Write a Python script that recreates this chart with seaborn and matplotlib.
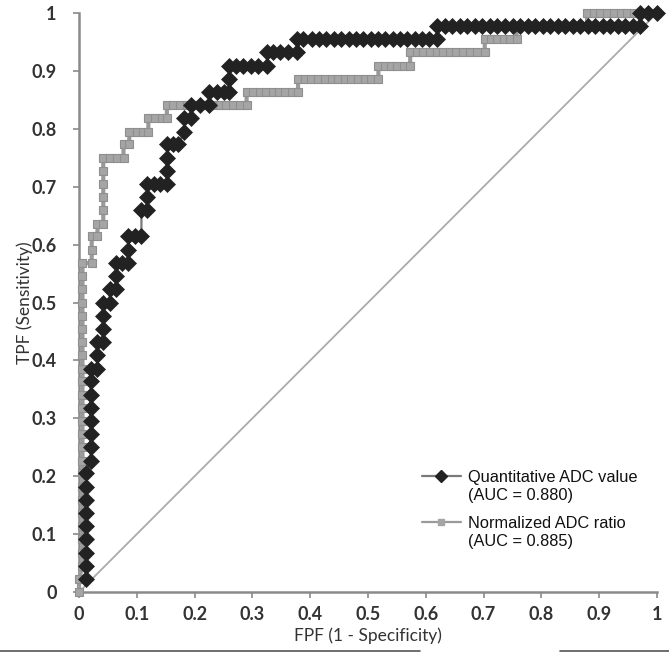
import numpy as np
import pandas as pd
import seaborn as sns
import matplotlib
matplotlib.use("Agg")
import matplotlib.pyplot as plt
from matplotlib.lines import Line2D
from matplotlib.legend_handler import HandlerLine2D

# ---- data ----
quant_fpf = [0.012, 0.012, 0.012, 0.012, 0.012, 0.012, 0.012, 0.012, 0.012,
             0.020, 0.020, 0.020, 0.020, 0.020, 0.020, 0.020, 0.020,
             0.032, 0.032, 0.032, 0.042, 0.042, 0.042, 0.042, 0.053, 0.053,
             0.064, 0.064, 0.064, 0.074, 0.085, 0.085, 0.085, 0.097, 0.108,
             0.108, 0.118, 0.118, 0.118, 0.129, 0.140, 0.152, 0.152, 0.152,
             0.152, 0.162, 0.172, 0.182, 0.182, 0.193, 0.193, 0.209, 0.225,
             0.225, 0.238, 0.250, 0.260, 0.260, 0.260, 0.272, 0.284, 0.297,
             0.310, 0.325, 0.325, 0.336, 0.348, 0.362, 0.377, 0.377,
             0.388, 0.403, 0.416, 0.428, 0.441, 0.454, 0.467, 0.479, 0.492,
             0.505, 0.517, 0.530, 0.543, 0.555, 0.568, 0.581, 0.593, 0.606, 0.620,
             0.620, 0.633, 0.646, 0.659, 0.672, 0.685, 0.698, 0.711, 0.724,
             0.737, 0.750, 0.763, 0.776, 0.789, 0.802, 0.815, 0.828, 0.841,
             0.854, 0.867, 0.880, 0.893, 0.906, 0.919, 0.932, 0.945, 0.958, 0.970,
             0.970, 0.985, 1.000]
quant_tpf = [0.023, 0.045, 0.068, 0.091, 0.114, 0.136, 0.159, 0.182, 0.205,
             0.227, 0.250, 0.273, 0.295, 0.318, 0.341, 0.364, 0.386,
             0.386, 0.409, 0.432, 0.432, 0.455, 0.477, 0.500, 0.500, 0.523,
             0.523, 0.545, 0.568, 0.568, 0.568, 0.591, 0.614, 0.614, 0.614,
             0.659, 0.659, 0.682, 0.705, 0.705, 0.705, 0.705, 0.727, 0.750,
             0.773, 0.773, 0.773, 0.795, 0.818, 0.818, 0.841, 0.841, 0.841,
             0.864, 0.864, 0.864, 0.864, 0.886, 0.909, 0.909, 0.909, 0.909,
             0.909, 0.909, 0.932, 0.932, 0.932, 0.932, 0.932, 0.955,
             0.955, 0.955, 0.955, 0.955, 0.955, 0.955, 0.955, 0.955, 0.955,
             0.955, 0.955, 0.955, 0.955, 0.955, 0.955, 0.955, 0.955, 0.955, 0.955,
             0.977, 0.977, 0.977, 0.977, 0.977, 0.977, 0.977, 0.977, 0.977,
             0.977, 0.977, 0.977, 0.977, 0.977, 0.977, 0.977, 0.977, 0.977,
             0.977, 0.977, 0.977, 0.977, 0.977, 0.977, 0.977, 0.977, 0.977, 0.977,
             1.000, 1.000, 1.000]

norm_fpf = [0.000, 0.000,
            0.006, 0.006, 0.006, 0.006, 0.006, 0.006, 0.006, 0.006, 0.006,
            0.006, 0.006, 0.006, 0.006, 0.006, 0.006, 0.006, 0.006, 0.006,
            0.006, 0.006, 0.006, 0.006, 0.006, 0.006,
            0.022, 0.022, 0.022, 0.032, 0.032, 0.042, 0.042, 0.042, 0.042,
            0.042, 0.042, 0.054, 0.065, 0.077, 0.077, 0.087, 0.087, 0.100,
            0.111, 0.120, 0.120, 0.131, 0.143, 0.152,
            0.152, 0.163, 0.175, 0.186, 0.198, 0.209, 0.221, 0.232, 0.244,
            0.255, 0.267, 0.278, 0.290,
            0.290, 0.301, 0.313, 0.324, 0.335, 0.346, 0.357, 0.368, 0.379,
            0.379, 0.391, 0.402, 0.414, 0.425, 0.437, 0.448, 0.460, 0.471,
            0.483, 0.494, 0.506, 0.518,
            0.518, 0.529, 0.540, 0.551, 0.562, 0.573,
            0.573, 0.584, 0.596, 0.607, 0.619, 0.630, 0.642, 0.653, 0.665,
            0.676, 0.688, 0.702,
            0.702, 0.713, 0.724, 0.735, 0.746, 0.757,
            0.757, 0.783, 0.809, 0.835, 0.861, 0.879,
            0.879, 0.891, 0.902, 0.914, 0.925, 0.937, 0.948, 0.960, 0.971,
            0.983, 1.000]
norm_tpf = [0.000, 0.023,
            0.045, 0.068, 0.091, 0.114, 0.136, 0.159, 0.182, 0.205, 0.227,
            0.250, 0.273, 0.295, 0.318, 0.341, 0.364, 0.386, 0.409, 0.432,
            0.455, 0.477, 0.500, 0.523, 0.545, 0.568,
            0.568, 0.591, 0.614, 0.614, 0.636, 0.636, 0.659, 0.682, 0.705,
            0.727, 0.750, 0.750, 0.750, 0.750, 0.773, 0.773, 0.795, 0.795,
            0.795, 0.795, 0.818, 0.818, 0.818, 0.818,
            0.841, 0.841, 0.841, 0.841, 0.841, 0.841, 0.841, 0.841, 0.841,
            0.841, 0.841, 0.841, 0.841,
            0.864, 0.864, 0.864, 0.864, 0.864, 0.864, 0.864, 0.864, 0.864,
            0.886, 0.886, 0.886, 0.886, 0.886, 0.886, 0.886, 0.886, 0.886,
            0.886, 0.886, 0.886, 0.886,
            0.909, 0.909, 0.909, 0.909, 0.909, 0.909,
            0.932, 0.932, 0.932, 0.932, 0.932, 0.932, 0.932, 0.932, 0.932,
            0.932, 0.932, 0.932,
            0.955, 0.955, 0.955, 0.955, 0.955, 0.955,
            0.977, 0.977, 0.977, 0.977, 0.977, 0.977,
            1.000, 1.000, 1.000, 1.000, 1.000, 1.000, 1.000, 1.000, 1.000,
            1.000, 1.000]

chance = [0.0, 1.0]
ticks = [0, 0.1, 0.2, 0.3, 0.4, 0.5, 0.6, 0.7, 0.8, 0.9, 1.0]
tick_labels = ["0", "0.1", "0.2", "0.3", "0.4", "0.5", "0.6", "0.7", "0.8", "0.9", "1"]
label_quant = "Quantitative ADC value\n(AUC = 0.880)"
label_norm = "Normalized ADC ratio\n(AUC = 0.885)"

df_q = pd.DataFrame({"FPF": quant_fpf, "TPF": quant_tpf})
df_n = pd.DataFrame({"FPF": norm_fpf, "TPF": norm_tpf})
df_c = pd.DataFrame({"FPF": chance, "TPF": chance})

sns.set_theme(style="white")
plt.rcParams["font.family"] = ["Lato", "DejaVu Sans"]

fig = plt.figure(figsize=(6.69, 6.52), dpi=100)
ax = fig.add_axes([79 / 669, 1 - 592 / 652, 578 / 669, 579 / 652])

GRAY = "#9a9a9a"
BLACK = "#222222"

# chance diagonal
sns.lineplot(data=df_c, x="FPF", y="TPF", ax=ax, color="#ababab", lw=1.3,
             sort=False, estimator=None, zorder=1)

# normalized ADC ratio (gray squares)
sns.lineplot(data=df_n, x="FPF", y="TPF", ax=ax, color=GRAY, lw=3.0,
             sort=False, estimator=None, marker="s", markersize=5.5,
             markerfacecolor="#a5a5a5", markeredgecolor="#8f8f8f",
             markeredgewidth=0.8, zorder=2, clip_on=False)

# quantitative ADC value (black diamonds)
sns.lineplot(data=df_q, x="FPF", y="TPF", ax=ax, color="#7a7a7a", lw=1.6,
             sort=False, estimator=None, marker="D", markersize=8.3,
             markerfacecolor=BLACK, markeredgecolor=BLACK,
             markeredgewidth=0.5, zorder=3, clip_on=False)

ax.set_xlim(0, 1)
ax.set_ylim(0, 1)
ax.set_xticks(ticks)
ax.set_yticks(ticks)
ax.set_xticklabels(tick_labels)
ax.set_yticklabels(tick_labels)

for side in ["top", "right"]:
    ax.spines[side].set_visible(False)
for side in ["left", "bottom"]:
    ax.spines[side].set_color("#8a8a8a")
    ax.spines[side].set_linewidth(1.8)
    ax.spines[side].set_zorder(0)

ax.tick_params(axis="both", which="major", direction="out", length=4,
               width=1.2, color="#8a8a8a", labelcolor="#333333",
               labelsize=13, bottom=True, left=True)
ax.tick_params(axis="y", pad=12)
ax.tick_params(axis="x", pad=6)
for lab in ax.get_xticklabels() + ax.get_yticklabels():
    lab.set_fontweight("bold")

ax.set_xlabel("FPF (1 - Specificity)", fontsize=12.5, color="#333333", labelpad=3)
ax.set_ylabel("TPF (Sensitivity)", fontsize=12.5, color="#333333", labelpad=-1)


class TopLineHandler(HandlerLine2D):
    """Place the legend sample beside the first line of a two-line label."""
    def __init__(self, shift, **kw):
        super().__init__(**kw)
        self.shift = shift

    def create_artists(self, legend, orig_handle, xdescent, ydescent,
                       width, height, fontsize, trans):
        arts = super().create_artists(legend, orig_handle, xdescent, ydescent,
                                      width, height, fontsize, trans)
        for a in arts:
            a.set_ydata(np.asarray(a.get_ydata()) + self.shift)
        return arts


h_quant = Line2D([], [], color="#7a7a7a", lw=1.6, marker="D", markersize=6.5,
                 markerfacecolor=BLACK, markeredgecolor=BLACK)
h_norm = Line2D([], [], color=GRAY, lw=1.6, marker="s", markersize=5,
                markerfacecolor="#a5a5a5", markeredgecolor="#a5a5a5")
hm = {h_quant: TopLineHandler(shift=7.5), h_norm: TopLineHandler(shift=7.5)}
leg = ax.legend([h_quant, h_norm], [label_quant, label_norm], loc="upper left",
                bbox_to_anchor=(407 / 669, 1 - 455 / 652),
                bbox_transform=fig.transFigure, frameon=False,
                handlelength=2.4, handletextpad=0.45, labelspacing=0.75,
                handler_map=hm,
                prop={"family": ["Liberation Sans", "DejaVu Sans"], "size": 11.8})
for t in leg.get_texts():
    t.set_color("#111111")
    t.set_linespacing(1.3)

# thin border remnants at the bottom edge of the reference image
fig.add_artist(Line2D([0, 420 / 669], [0.0015, 0.0015], color="#555555", lw=1.2,
                      transform=fig.transFigure))
fig.add_artist(Line2D([560 / 669, 1], [0.0015, 0.0015], color="#555555", lw=1.2,
                      transform=fig.transFigure))

fig.savefig("out.png", dpi=100)
